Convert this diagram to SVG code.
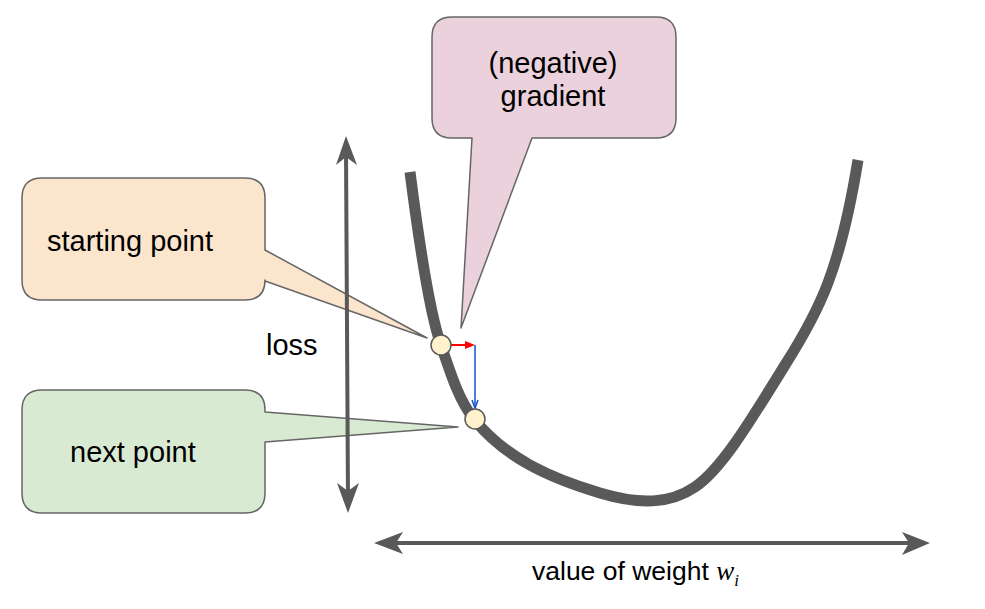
<svg xmlns="http://www.w3.org/2000/svg" width="985" height="609" viewBox="0 0 985 609">
<defs>
<style>
.callout{stroke:#666666;stroke-width:1.5;stroke-linejoin:round}
.lbl{font-family:"Liberation Sans",Arial,sans-serif;font-size:29px;fill:#000}
.axis{stroke:#595959;stroke-width:4;fill:none}
.head{fill:#595959}
.pt{fill:#fff2cc;stroke:#595959;stroke-width:1.5}
</style>
</defs>
<rect width="985" height="609" fill="#ffffff"/>
<g id="callout-gradient">
<path class="callout" fill="#ead1dc" d="M452,17 H656 Q676,17 676,37 V118 Q676,138 656,138 H532 L461,328 L472,138 H452 Q432,138 432,118 V37 Q432,17 452,17 Z"/>
<text class="lbl" x="553" y="73" text-anchor="middle">(negative)</text>
<text class="lbl" x="553" y="106" text-anchor="middle">gradient</text>
</g>
<g id="callout-start">
<path class="callout" fill="#fce5cd" d="M42,178 H245 Q265,178 265,198 V250 L427,338 L265,281 V280 Q265,300 245,300 H42 Q22,300 22,280 V198 Q22,178 42,178 Z"/>
<text class="lbl" x="47" y="251">starting point</text>
</g>
<g id="callout-next">
<path class="callout" fill="#d9ead3" d="M42,390 H245 Q265,390 265,410 V412 L458,427 L265,442 V493 Q265,513 245,513 H42 Q22,513 22,493 V410 Q22,390 42,390 Z"/>
<text class="lbl" x="70" y="462">next point</text>
</g>
<g id="connectors">
<line class="axis" x1="346" y1="150" x2="348" y2="500"/>
<path class="head" d="M346,136 L357,165 L346,157 L336,165 Z"/>
<path class="head" d="M348,513 L337,483 L348,491 L359,483 Z"/>
<line class="axis" x1="385" y1="543" x2="918" y2="543"/>
<path class="head" d="M374,543 L403,532 L396,543 L403,554 Z"/>
<path class="head" d="M930,543 L902,532 L909,543 L902,555 Z"/>
<path d="M410,172 C420,250 430,315 441,345 C452,378 460,402 474,419 C505,458 550,478 600,493 C640,505 670,504 695,487 C720,470 745,430 785,365 C820,310 840,270 858,160" fill="none" stroke="#595959" stroke-width="11"/>
<line x1="451" y1="345" x2="466" y2="345" stroke="#ff0000" stroke-width="2"/>
<path d="M475,345 L465,341 L465,349 Z" fill="#ff0000"/>
<line x1="475" y1="345" x2="475" y2="408" stroke="#1155cc" stroke-width="1.5"/>
<path d="M472,400 L475,408 L478,400" fill="none" stroke="#1155cc" stroke-width="1.5"/>
</g>
<g id="start-point"><circle class="pt" cx="441" cy="345" r="10"/></g>
<g id="next-point"><circle class="pt" cx="475" cy="419" r="10"/></g>
<g id="axis-labels">
<text class="lbl" x="266" y="355">loss</text>
<text x="532" y="580" font-family="'Liberation Sans',Arial,sans-serif" font-size="26.5">value of weight <tspan font-family="'Liberation Serif','Times New Roman',serif" font-style="italic" font-size="27">w</tspan><tspan font-family="'Liberation Serif','Times New Roman',serif" font-style="italic" font-size="17" dy="6">i</tspan></text>
</g>
</svg>
